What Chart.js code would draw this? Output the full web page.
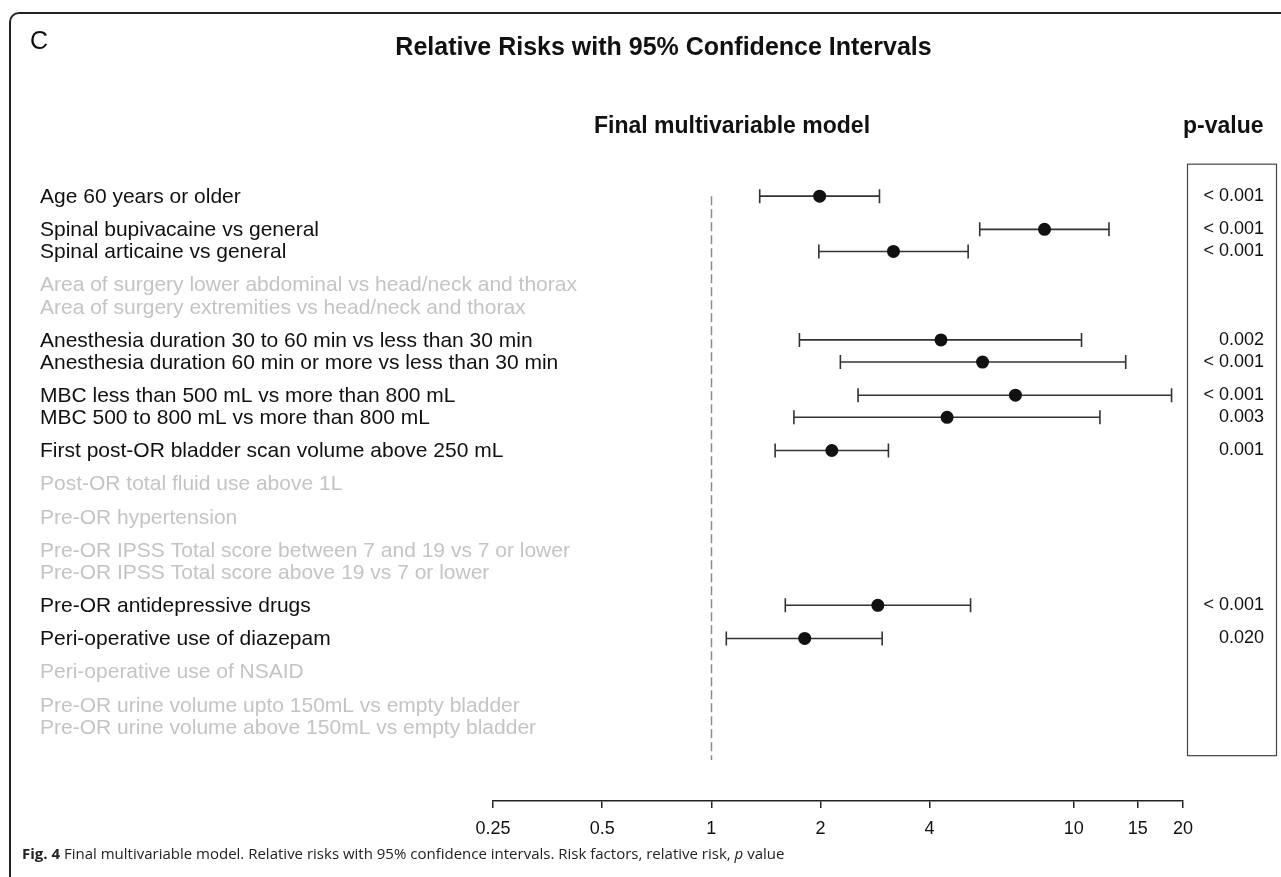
<!DOCTYPE html>
<html>
<head>
<meta charset="utf-8">
<script src="https://cdn.jsdelivr.net/npm/chart.js@4.4.1/dist/chart.umd.min.js"></script>
<style>
  html, body { margin: 0; padding: 0; background: #fff; }
  #wrap { position: relative; width: 1281px; height: 877px; overflow: hidden; }
  #frame { position: absolute; left: 9px; top: 12px; width: 1300px; height: 900px;
           border: 2px solid #222; border-radius: 10px; box-sizing: border-box; }
  .txt { position: absolute; font-family: "Liberation Sans", Arial, sans-serif; color: #111; line-height: 1; white-space: nowrap; }
  #caption { position: absolute; left: 22px; top: 846px; font-family: "Open Sans", "Noto Sans", sans-serif;
             font-size: 15px; color: #222; line-height: 1; white-space: nowrap; }
  canvas { position: absolute; left: 0; top: 0; }
</style>
</head>
<body>
<div id="wrap">
  <div id="frame"></div>
  <canvas id="forest" width="1281" height="877"></canvas>
  <div class="txt" style="left:30px; top:28px; font-size:25px;">C</div>
  <div class="txt" style="left:0; width:1327px; text-align:center; top:34px; font-size:25px; font-weight:bold;">Relative Risks with 95% Confidence Intervals</div>
  <div class="txt" style="left:0; width:1464px; text-align:center; top:114px; font-size:23px; font-weight:bold;">Final multivariable model</div>
  <div class="txt" style="left:1183px; top:114px; font-size:23px; font-weight:bold;">p-value</div>
  <div id="caption"><b>Fig. 4</b> Final multivariable model. Relative risks with 95% confidence intervals. Risk factors, relative risk, <i>p</i> value</div>
</div>
<script>
// risk factors, top to bottom
const rowLabels = [
  'Age 60 years or older',
  'Spinal bupivacaine vs general',
  'Spinal articaine vs general',
  'Area of surgery lower abdominal vs head/neck and thorax',
  'Area of surgery extremities vs head/neck and thorax',
  'Anesthesia duration 30 to 60 min vs less than 30 min',
  'Anesthesia duration 60 min or more vs less than 30 min',
  'MBC less than 500 mL vs more than 800 mL',
  'MBC 500 to 800 mL vs more than 800 mL',
  'First post-OR bladder scan volume above 250 mL',
  'Post-OR total fluid use above 1L',
  'Pre-OR hypertension',
  'Pre-OR IPSS Total score between 7 and 19 vs 7 or lower',
  'Pre-OR IPSS Total score above 19 vs 7 or lower',
  'Pre-OR antidepressive drugs',
  'Peri-operative use of diazepam',
  'Peri-operative use of NSAID',
  'Pre-OR urine volume upto 150mL vs empty bladder',
  'Pre-OR urine volume above 150mL vs empty bladder'
];
// variable each row belongs to (rows of one variable sit closer together)
const rowGroup = [0, 1, 1, 2, 2, 3, 3, 4, 4, 5, 6, 7, 8, 8, 9, 10, 11, 12, 12];

// relative risk and 95% CI (null = not in final model)
const relRisk = [1.99, 8.3, 3.18, null, null, 4.3, 5.6, 6.9, 4.47, 2.15, null, null, null, null, 2.88, 1.81, null, null, null];
const ciLow   = [1.36, 5.5, 1.98, null, null, 1.75, 2.27, 2.54, 1.69, 1.5, null, null, null, null, 1.6, 1.1, null, null, null];
const ciHigh  = [2.91, 12.5, 5.11, null, null, 10.5, 13.9, 18.6, 11.8, 3.08, null, null, null, null, 5.19, 2.96, null, null, null];
const pValues = ['< 0.001', '< 0.001', '< 0.001', '', '', '0.002', '< 0.001', '< 0.001', '0.003', '0.001', '', '', '', '', '< 0.001', '0.020', '', '', ''];

const xTicks = [0.25, 0.5, 1, 2, 4, 10, 15, 20];

// row slots: 2 units inside a variable, 3 between variables
let rowPos = [];
rowGroup.forEach((g, i) => {
  if (i === 0) rowPos.push(0);
  else rowPos.push(rowPos[i - 1] + (g === rowGroup[i - 1] ? 2 : 3));
});

let points = [];
relRisk.forEach((v, i) => {
  if (v !== null) points.push({ x: v, y: rowPos[i], lo: ciLow[i], hi: ciHigh[i] });
});

const FONT = '"Liberation Sans", Arial, sans-serif';

// CI whiskers, reference line at RR = 1, row labels and p-value box
const forestLines = {
  id: 'forestLines',
  beforeDatasetsDraw(chart) {
    const ctx = chart.ctx;
    const xs = chart.scales.x;
    const ys = chart.scales.y;
    ctx.save();
    // dashed line at 1
    ctx.strokeStyle = '#8a8a8a';
    ctx.lineWidth = 1.5;
    ctx.setLineDash([9, 4]);
    ctx.beginPath();
    let x1 = Math.round(xs.getPixelForValue(1)) + 0.5;
    ctx.moveTo(x1, ys.getPixelForValue(rowPos[0]));
    ctx.lineTo(x1, ys.getPixelForValue(rowPos[rowPos.length - 1] + 3));
    ctx.stroke();
    ctx.setLineDash([]);
    // whiskers
    ctx.strokeStyle = '#333';
    ctx.lineWidth = 1.6;
    points.forEach(p => {
      let y = ys.getPixelForValue(p.y);
      let xl = xs.getPixelForValue(p.lo);
      let xh = xs.getPixelForValue(p.hi);
      ctx.beginPath();
      ctx.moveTo(xl, y); ctx.lineTo(xh, y);
      ctx.moveTo(xl, y - 7); ctx.lineTo(xl, y + 7);
      ctx.moveTo(xh, y - 7); ctx.lineTo(xh, y + 7);
      ctx.stroke();
    });
    ctx.restore();
  },
  afterDraw(chart) {
    const ctx = chart.ctx;
    const ys = chart.scales.y;
    ctx.save();
    // row labels, grey when the factor is not in the final model
    ctx.font = '21px ' + FONT;
    ctx.textAlign = 'left';
    ctx.textBaseline = 'middle';
    rowLabels.forEach((lab, i) => {
      ctx.fillStyle = relRisk[i] === null ? '#c4c4c4' : '#111';
      ctx.fillText(lab, 40, ys.getPixelForValue(rowPos[i]) + 1);
    });
    // p-value box
    ctx.strokeStyle = '#444';
    ctx.lineWidth = 1.2;
    let top = ys.getPixelForValue(rowPos[0]) - 32;
    let bottom = ys.getPixelForValue(rowPos[rowPos.length - 1] + 2.6);
    ctx.strokeRect(1187.5, top, 89, bottom - top);
    ctx.restore();
  }
};

let forestChart = new Chart(document.querySelector('#forest'), {
  type: 'scatter',
  data: {
    datasets: [{
      data: points,
      pointRadius: 6.5,
      pointHoverRadius: 6.5,
      backgroundColor: '#111',
      borderColor: '#111',
      borderWidth: 0
    }]
  },
  options: {
    responsive: false,
    animation: false,
    events: [],
    layout: { padding: { left: 493, right: 17, top: 163, bottom: 0 } },
    plugins: { legend: { display: false }, tooltip: { enabled: false } },
    scales: {
      x: {
        type: 'logarithmic',
        position: 'bottom',
        min: 0.25,
        max: 20,
        afterBuildTicks: axis => { axis.ticks = xTicks.map(v => ({ value: v })); },
        afterFit: axis => { axis.height = 76; },
        grid: { drawOnChartArea: false, drawTicks: true, tickLength: 7, color: '#222', lineWidth: 1.5 },
        border: { display: true, color: '#222', width: 1.5 },
        ticks: {
          autoSkip: false,
          maxRotation: 0,
          padding: 10,
          color: '#111',
          font: { family: FONT, size: 18 },
          callback: v => String(v)
        }
      },
      y: {
        type: 'linear',
        display: false,
        reverse: true,
        min: -3,
        max: 54.7
      },
      pv: {
        type: 'linear',
        position: 'right',
        reverse: true,
        min: -3,
        max: 54.7,
        afterBuildTicks: axis => { axis.ticks = rowPos.map(v => ({ value: v })); },
        afterFit: axis => { axis.width = 81; },
        grid: { display: false },
        border: { display: false },
        ticks: {
          autoSkip: false,
          crossAlign: 'far',
          padding: 0,
          color: '#111',
          font: { family: FONT, size: 18 },
          callback: (v, i) => pValues[i]
        }
      }
    }
  },
  plugins: [forestLines]
});
</script>
</body>
</html>
